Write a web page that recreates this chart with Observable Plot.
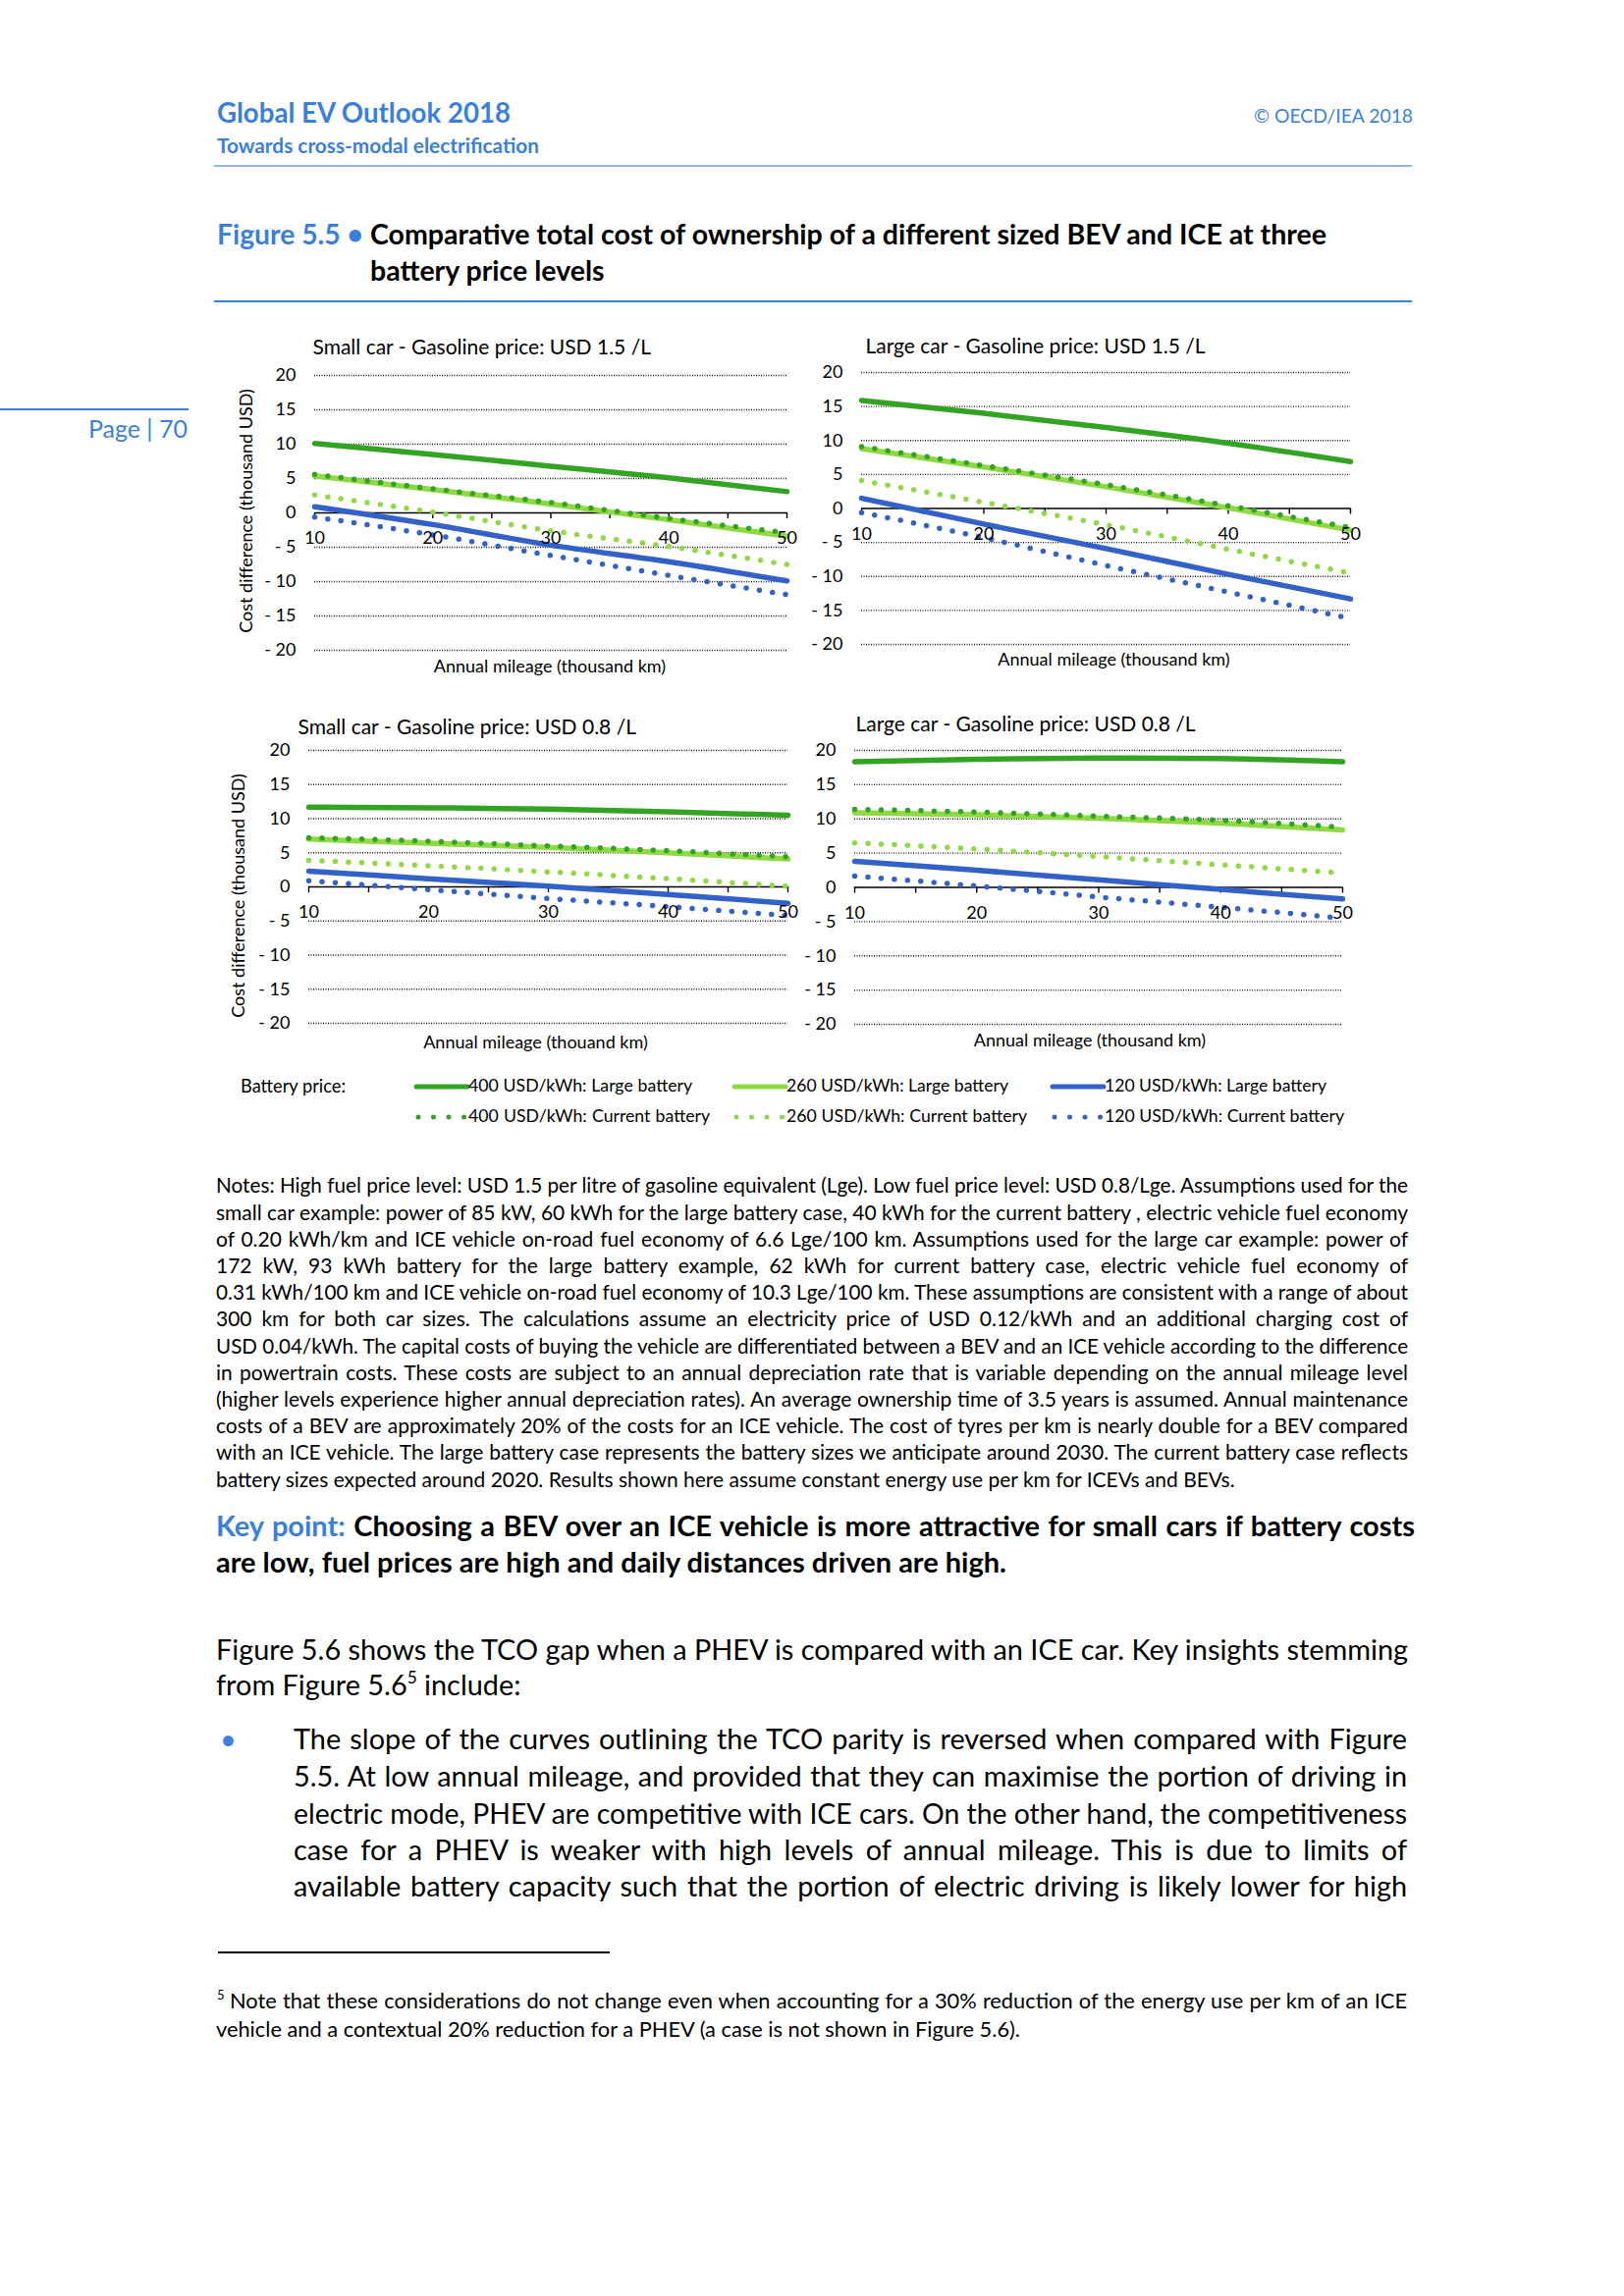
<!DOCTYPE html>
<html><head><meta charset="utf-8">
<script src="https://cdn.jsdelivr.net/npm/d3@7"></script>
<script src="https://cdn.jsdelivr.net/npm/@observablehq/plot@0.6"></script>
<style>
html,body{margin:0;padding:0;background:#fff;}
body{width:1654px;height:2339px;position:relative;overflow:hidden;font-family:Lato,"Open Sans",sans-serif;color:#000;}
.ln{position:absolute;white-space:nowrap;line-height:1;}
.ln > span{display:inline-block;transform-origin:0 50%;white-space:nowrap;}
.ln sup{font-size:0.6em;vertical-align:0.7em;line-height:0;}
.rule{position:absolute;}
.panel{position:absolute;}
.panel svg{overflow:visible;}
</style></head><body>
<script>
// ---------------- DATA ----------------
const mileage = [10, 20, 30, 40, 50];
const yTicks = [-20, -15, -10, -5, 0, 5, 10, 15, 20];
const xMinorTicks = [10, 15, 20, 25, 30, 35, 40, 45, 50];
const xLabels = [10, 20, 30, 40, 50];
const seriesNames = [
  "400 USD/kWh: Large battery", "260 USD/kWh: Large battery", "120 USD/kWh: Large battery",
  "400 USD/kWh: Current battery", "260 USD/kWh: Current battery", "120 USD/kWh: Current battery"
];
const seriesColors = ["#33a323", "#8fda44", "#3262c8", "#33a323", "#8fda44", "#3262c8"];
const seriesDotted = [false, false, false, true, true, true];
const panelTitles = [
  "Small car - Gasoline price: USD 1.5 /L", "Large car - Gasoline price: USD 1.5 /L",
  "Small car - Gasoline price: USD 0.8 /L", "Large car - Gasoline price: USD 0.8 /L"
];
const xTitles = ["Annual mileage (thousand km)", "Annual mileage (thousand km)",
  "Annual mileage (thouand km)", "Annual mileage (thousand km)"];
const yTitle = "Cost difference (thousand USD)";
// values in series order above, at mileage 10..50
const smallHighValues = [
  [10.1, 8.5, 6.8, 5.1, 3.1],
  [5.4, 3.4, 1.3, -1.0, -3.4],
  [0.9, -1.7, -4.7, -7.1, -9.9],
  [5.6, 3.5, 1.5, -0.8, -2.9],
  [2.6, 0.1, -2.6, -4.9, -7.5],
  [-0.6, -3.2, -6.2, -9.1, -11.9]
];
const largeHighValues = [
  [15.9, 14.0, 11.9, 9.6, 6.9],
  [8.8, 6.1, 3.2, 0.1, -3.2],
  [1.5, -2.3, -5.9, -9.7, -13.3],
  [9.1, 6.3, 3.5, 0.4, -2.8],
  [4.1, 0.9, -2.4, -6.0, -9.5],
  [-0.6, -4.3, -8.4, -12.3, -16.2]
];
const smallLowValues = [
  [11.7, 11.6, 11.4, 11.0, 10.5],
  [7.0, 6.4, 5.8, 5.0, 4.1],
  [2.3, 1.2, 0.1, -1.1, -2.4],
  [7.2, 6.7, 6.0, 5.3, 4.4],
  [3.9, 3.1, 2.2, 1.2, 0.1],
  [0.9, -0.4, -1.7, -2.9, -4.2]
];
const largeLowValues = [
  [18.35, 18.7, 18.9, 18.8, 18.35],
  [10.9, 10.6, 10.1, 9.4, 8.4],
  [3.8, 2.5, 1.1, -0.3, -1.7],
  [11.4, 11.0, 10.4, 9.8, 8.8],
  [6.5, 5.6, 4.5, 3.3, 2.1],
  [1.65, 0.2, -1.4, -2.9, -4.5]
];

// ---------------- TEXT HELPERS ----------------
// items: {html, x, y, w, full}; full lines are fitted to width w (font calibrated on the block, then justified)
function addBlock(items, size, o = {}) {
  const els = items.map(it => {
    const div = document.createElement("div");
    div.className = "ln";
    div.style.left = it.x + "px";
    div.style.fontSize = size + "px";
    div.style.fontWeight = o.bold ? 700 : 400;
    div.style.color = it.color || o.color || "#000";
    const span = document.createElement("span");
    span.innerHTML = it.html;
    div.appendChild(span);
    document.body.appendChild(div);
    return {it, div, span};
  });
  const ratios = els.filter(e => e.it.full).map(e => e.it.w / e.span.getBoundingClientRect().width).sort((a, b) => a - b);
  let s = size;
  if (ratios.length) {
    const p = ratios[Math.floor((ratios.length - 1) * (o.pct ?? 0.3))];
    s = size * Math.max(0.75, Math.min(1.35, p * (o.slack ?? 1)));
  }
  els.forEach(e => {
    e.div.style.fontSize = s + "px";
    e.div.style.top = (e.it.y - s * 0.55) + "px";
    if (!e.it.full) return;
    const nat = e.span.getBoundingClientRect().width;
    if (nat < e.it.w) {
      const spaces = (e.span.textContent.match(/ /g) || []).length;
      if (spaces) e.span.style.wordSpacing = ((e.it.w - nat) / spaces) + "px";
      else e.span.style.transform = `scaleX(${e.it.w / nat})`;
    } else {
      e.span.style.transform = `scaleX(${e.it.w / nat})`;
    }
  });
}
function addOne(html, x, y, w, size, o = {}) {
  addBlock([{html, x, y, w, full: !!w}], size, o);
}
function addRule(x, y, w, h, color) {
  const d = document.createElement("div");
  d.className = "rule";
  Object.assign(d.style, {left: x + "px", top: (y - h / 2) + "px", width: w + "px", height: h + "px", background: color});
  document.body.appendChild(d);
}
const BLUE = "#3b7fdc";

// header
addOne("Global EV Outlook 2018", 221, 116, 299, 26, {bold: true, color: BLUE});
addOne("Towards cross-modal electrification", 221, 149, 328, 18, {bold: true, color: BLUE});
addOne("© OECD/IEA 2018", 1277, 119, 162, 19, {color: BLUE});
addRule(218, 169, 1220, 2, "#8eb4e3");
addRule(0, 417, 192, 1.5, BLUE);
addOne("Page | 70", 90, 438, 101, 20, {color: BLUE});
addOne("Figure 5.5 •", 221, 240, 149, 26, {bold: true, color: BLUE});
addBlock([
  {html: "Comparative total cost of ownership of a different sized BEV and ICE at three", x: 377, y: 240, w: 974, full: true},
  {html: "battery price levels", x: 377, y: 277, w: 243, full: false}
], 26, {bold: true, pct: 0});
addRule(218, 307, 1220, 2, BLUE);

// ---------------- PANELS ----------------
const fmt = d => d < 0 ? "- " + (-d) : String(d);
function panel(values, i, box) {
  const rows = [];
  seriesNames.forEach((s, k) => mileage.forEach((m, j) => rows.push({k, x: m, y: values[k][j]})));
  const marks = [
    Plot.ruleY(yTicks.filter(d => d !== 0), {y: d => d, stroke: "#1a1a1a", strokeWidth: 1.3, strokeDasharray: "1,1.5"}),
    Plot.ruleY([0], {y: d => d, stroke: "#000", strokeWidth: 1.4}),
    Plot.ruleX(xMinorTicks, {x: d => d, y1: () => 0, y2: () => 0, insetBottom: -6, stroke: "#000", strokeWidth: 1.4}),
    Plot.text(yTicks, {y: d => d, frameAnchor: "left", dx: -19, textAnchor: "end", text: fmt, fontSize: 18})
  ];
  [0, 1, 2, 3, 4, 5].forEach(k => {
    const opts = {x: "x", y: "y", stroke: seriesColors[k], curve: "monotone-x", strokeWidth: 5.5};
    if (seriesDotted[k]) Object.assign(opts, {strokeDasharray: "0,13.5", strokeLinecap: "round"});
    marks.push(Plot.line(rows.filter(r => r.k === k), opts));
  });
  marks.push(
    Plot.text(xLabels, {x: d => d, y: () => 0, dy: 26, text: d => String(d), fontSize: 18}),
    Plot.text([panelTitles[i]], {frameAnchor: "top-left", dx: box.tdx, dy: box.tdy, textAnchor: "start", text: d => d, fontSize: 21}),
    Plot.text([xTitles[i]], {frameAnchor: "bottom", dx: box.xdx, dy: box.xdy, text: d => d, fontSize: 18})
  );
  if (box.yTitle) marks.push(Plot.text([yTitle], {frameAnchor: "left", dx: box.ydx, dy: box.ydy, rotate: -90, textAnchor: "middle", text: d => d, fontSize: 18}));
  const svg = Plot.plot({
    width: box.w, height: box.h,
    marginLeft: box.mL, marginRight: box.mR, marginTop: box.mT, marginBottom: box.mB,
    x: {domain: [10, 50], axis: null},
    y: {domain: [-20, 20], axis: null},
    style: {fontFamily: "Lato, sans-serif", fontSize: "18px", color: "#000", background: "transparent", overflow: "visible"},
    marks
  });
  const wrap = document.createElement("div");
  wrap.className = "panel";
  wrap.style.left = box.left + "px";
  wrap.style.top = box.top + "px";
  wrap.appendChild(svg);
  document.body.appendChild(wrap);
}
panel(smallHighValues, 0, {left: 230, top: 330, w: 600, h: 370, mL: 90, mR: 29, mT: 52, mB: 38, tdx: -2, tdy: -36, xdx: -1, xdy: 22, yTitle: true, ydx: -69, ydy: -2});
panel(largeHighValues, 1, {left: 820, top: 330, w: 600, h: 370, mL: 57, mR: 45, mT: 49, mB: 44, tdx: 4, tdy: -34, xdx: 8, xdy: 21});
panel(smallLowValues, 2, {left: 220, top: 715, w: 600, h: 370, mL: 94, mR: 18, mT: 49, mB: 43, tdx: -11, tdy: -31, xdx: -13, xdy: 25, yTitle: true, ydx: -71, ydy: 9});
panel(largeLowValues, 3, {left: 820, top: 715, w: 600, h: 370, mL: 50, mR: 53, mT: 49, mB: 42, tdx: 1, tdy: -34, xdx: -9, xdy: 22});

// ---------------- LEGEND ----------------
addOne("Battery price:", 245, 1107, 107, 15);
const legendX = [424, 748, 1072];
const legendTextW = [[228, 246], [226, 245], [226, 244]];
const legendItems = [];
seriesNames.forEach((s, k) => {
  const col = k % 3, row = Math.floor(k / 3);
  const y = row === 0 ? 1107 : 1138;
  const x0 = legendX[col];
  const sw = document.createElementNS("http://www.w3.org/2000/svg", "svg");
  sw.setAttribute("width", 60); sw.setAttribute("height", 12);
  Object.assign(sw.style, {position: "absolute", left: x0 + "px", top: (y - 6) + "px", overflow: "visible"});
  const ln = document.createElementNS("http://www.w3.org/2000/svg", "line");
  ln.setAttribute("y1", 6); ln.setAttribute("y2", 6);
  ln.setAttribute("stroke", seriesColors[k]);
  ln.setAttribute("stroke-width", 5);
  ln.setAttribute("stroke-linecap", "round");
  if (seriesDotted[k]) {
    ln.setAttribute("x1", 2); ln.setAttribute("x2", 50);
    ln.setAttribute("stroke-dasharray", "0,15.5");
  } else {
    ln.setAttribute("x1", 0); ln.setAttribute("x2", 52);
  }
  sw.appendChild(ln);
  document.body.appendChild(sw);
  legendItems.push({html: s, x: x0 + 53, y, w: legendTextW[col][row], full: true});
});
addBlock(legendItems, 15, {pct: 0.5});

// ---------------- NOTES & BODY ----------------
const notesLines = [
  "Notes: High fuel price level: USD 1.5 per litre of gasoline equivalent (Lge). Low fuel price level: USD 0.8/Lge. Assumptions used for the",
  "small car example: power of 85 kW, 60 kWh for the large battery case, 40 kWh for the current battery , electric vehicle fuel economy",
  "of 0.20 kWh/km and ICE vehicle on-road fuel economy of 6.6 Lge/100 km. Assumptions used for the large car example: power of",
  "172 kW, 93 kWh battery for the large battery example, 62 kWh for current battery case, electric vehicle fuel economy of",
  "0.31 kWh/100 km and ICE vehicle on-road fuel economy of 10.3 Lge/100 km. These assumptions are consistent with a range of about",
  "300 km for both car sizes. The calculations assume an electricity price of USD 0.12/kWh and an additional charging cost of",
  "USD 0.04/kWh. The capital costs of buying the vehicle are differentiated between a BEV and an ICE vehicle according to the difference",
  "in powertrain costs. These costs are subject to an annual depreciation rate that is variable depending on the annual mileage level",
  "(higher levels experience higher annual depreciation rates). An average ownership time of 3.5 years is assumed. Annual maintenance",
  "costs of a BEV are approximately 20% of the costs for an ICE vehicle. The cost of tyres per km is nearly double for a BEV compared",
  "with an ICE vehicle. The large battery case represents the battery sizes we anticipate around 2030. The current battery case reflects",
  "battery sizes expected around 2020. Results shown here assume constant energy use per km for ICEVs and BEVs."
];
addBlock(notesLines.map((t, i) => ({html: t, x: 220, y: 1208 + i * 27.2, w: 1214, full: i < notesLines.length - 1})), 18.5, {pct: 0.3});

addBlock([
  {html: `<span style="color:${BLUE}">Key point:</span> Choosing a BEV over an ICE vehicle is more attractive for small cars if battery costs`, x: 220, y: 1555, w: 1221, full: true},
  {html: "are low, fuel prices are high and daily distances driven are high.", x: 220, y: 1592, w: 805, full: true}
], 24, {bold: true, pct: 0});

const bulletLines = [
  "The slope of the curves outlining the TCO parity is reversed when compared with Figure",
  "5.5. At low annual mileage, and provided that they can maximise the portion of driving in",
  "electric mode, PHEV are competitive with ICE cars. On the other hand, the competitiveness",
  "case for a PHEV is weaker with high levels of annual mileage. This is due to limits of",
  "available battery capacity such that the portion of electric driving is likely lower for high"
];
const bulletY = [1773, 1811, 1849, 1886, 1923];
const bodyItems = [
  {html: "Figure 5.6 shows the TCO gap when a PHEV is compared with an ICE car. Key insights stemming", x: 220, y: 1682, w: 1214, full: true},
  {html: "from Figure 5.6<sup>5</sup> include:", x: 220, y: 1718, w: 305, full: false},
  {html: "•", x: 224, y: 1773, w: 0, full: false, color: BLUE}
].concat(bulletLines.map((t, i) => ({html: t, x: 299, y: bulletY[i], w: 1134, full: true})));
addBlock(bodyItems, 25, {pct: 0.2});

addRule(222, 1989, 399, 1.2, "#000");
addBlock([
  {html: "<sup>5</sup>", x: 221, y: 2039, w: 0, full: false},
  {html: "Note that these considerations do not change even when accounting for a 30% reduction of the energy use per km of an ICE", x: 234, y: 2039, w: 1199, full: true},
  {html: "vehicle and a contextual 20% reduction for a PHEV (a case is not shown in Figure 5.6).", x: 220, y: 2068, w: 819, full: true}
], 18.5, {pct: 0});
</script>
</body></html>
